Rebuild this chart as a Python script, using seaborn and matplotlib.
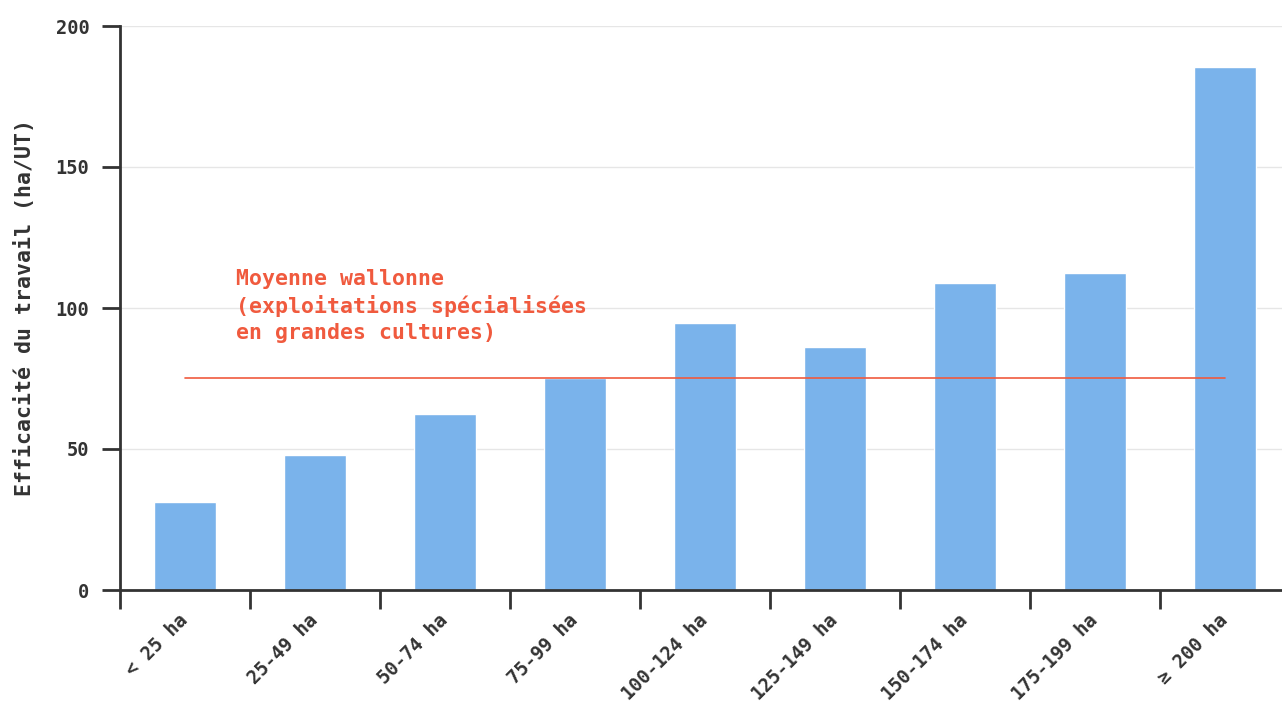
import numpy as np
import pandas as pd
import matplotlib
matplotlib.use("Agg")
import matplotlib.pyplot as plt
import seaborn as sns

# Data
categories = ['< 25 ha', '25-49 ha', '50-74 ha', '75-99 ha', '100-124 ha',
              '125-149 ha', '150-174 ha', '175-199 ha', '≥ 200 ha']
efficiency = [31.2, 47.9, 62.4, 75.2, 94.7, 86.2, 108.9, 112.4, 185.5]
regional_mean = 75.2
mean_label = "Moyenne wallonne\n(exploitations spécialisées\nen grandes cultures)"

sns.set_style("white")
plt.rcParams['font.family'] = ['DejaVu Sans Mono']
plt.rcParams['font.weight'] = 'bold'

text_color = '#333333'
bar_color = '#7ab3eb'
red = '#f05a3e'

df = pd.DataFrame({'classe': categories, 'efficacite': efficiency})

fig = plt.figure(figsize=(12.82, 7.04), dpi=100)
ax = fig.add_axes([120 / 1282, 114 / 704, (1282 - 120) / 1282, 564 / 704])

sns.barplot(data=df, x='classe', y='efficacite', color=bar_color,
            width=0.47, saturation=1, ax=ax, zorder=2)

# Horizontal grid
for v in [50, 100, 150, 200]:
    ax.axhline(v, color='#e6e6e6', lw=1, zorder=0)

# Regional average line
n = len(categories)
ax.plot([0, n - 1], [regional_mean, regional_mean], color=red, lw=1.2, zorder=3)
ax.text(0.39, 114, mean_label, color=red, fontsize=15.5, fontweight='bold',
        va='top', ha='left', linespacing=1.38, zorder=4)

ax.set_ylim(0, 200)
ax.set_xlim(-0.5, -0.5 + (1282 - 120) / 130)
ax.set_yticks([0, 50, 100, 150, 200])

# tick marks at band edges, labels under the bars
ax.set_xticks(np.arange(n))
ax.set_xticklabels(categories, rotation=45, ha='right', va='center',
                   rotation_mode='anchor')
ax.set_xticks(np.arange(n) - 0.5, minor=True)
ax.tick_params(axis='x', which='major', bottom=True, length=0, pad=20,
               labelsize=13.5, labelcolor=text_color)
ax.tick_params(axis='x', which='minor', bottom=True, length=14, width=2,
               color=text_color, direction='out')
ax.tick_params(axis='y', left=True, length=13, width=2, color=text_color,
               direction='out', pad=9, labelsize=13.5, labelcolor=text_color)

for lab in ax.get_xticklabels() + ax.get_yticklabels():
    lab.set_fontweight('bold')

ax.set_xlabel('')
ax.set_ylabel('Efficacité du travail (ha/UT)', fontsize=15.5, fontweight='bold',
              color=text_color, labelpad=15)

sns.despine(ax=ax, top=True, right=True)
for side in ['left', 'bottom']:
    ax.spines[side].set_linewidth(2)
    ax.spines[side].set_color(text_color)

fig.savefig('out.png', dpi=100)
